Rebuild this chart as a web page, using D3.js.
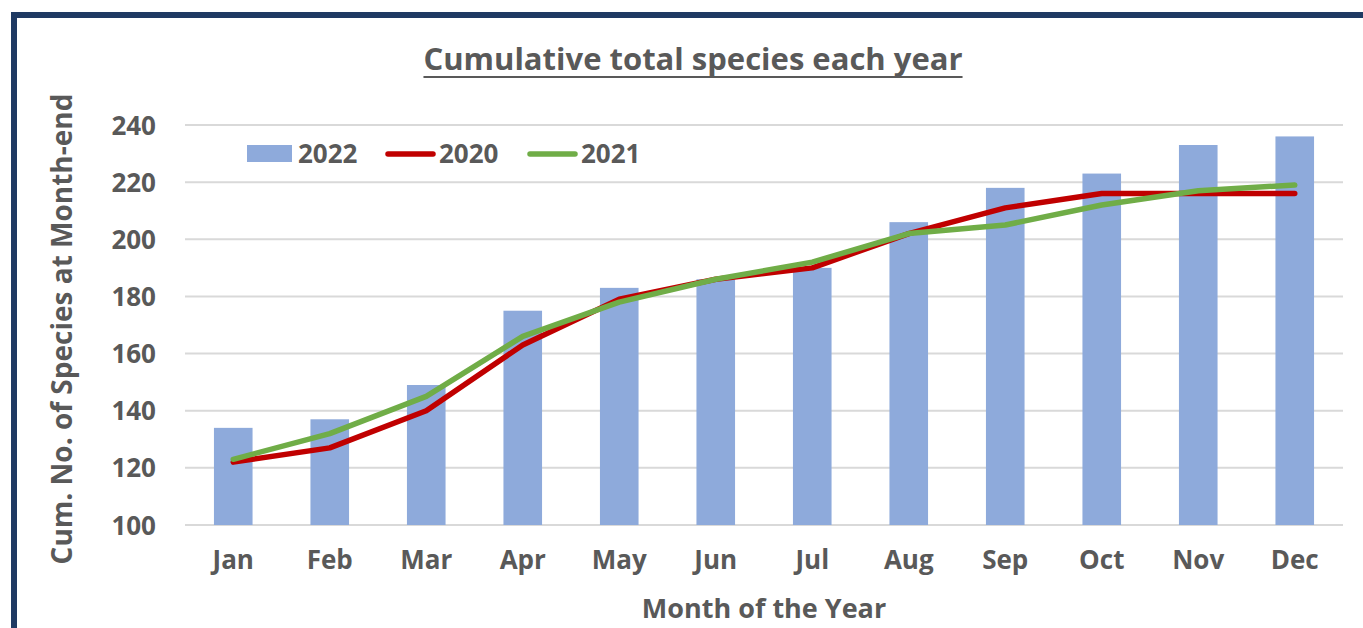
<!DOCTYPE html>
<html>
<head>
<meta charset="utf-8">
<script src="https://cdn.jsdelivr.net/npm/d3@7"></script>
<style>
  html, body { margin: 0; padding: 0; background: #fff; }
  svg { display: block; }
  text { font-family: "Open Sans", Lato, sans-serif; font-weight: 700; fill: #595959; }
</style>
</head>
<body>
<svg id="chart" width="1363" height="628"></svg>
<script>
// Months along the x axis
const months = ["Jan", "Feb", "Mar", "Apr", "May", "Jun", "Jul", "Aug", "Sep", "Oct", "Nov", "Dec"];
// Cumulative species count at each month-end
const species2022 = [134, 137, 149, 175, 183, 186, 190, 206, 218, 223, 233, 236];
const species2020 = [122, 127, 140, 163, 179, 186, 190, 202, 211, 216, 216, 216];
const species2021 = [123, 132, 145, 166, 178, 186, 192, 202, 205, 212, 217, 219];
// Y axis ticks
const yTicks = [100, 120, 140, 160, 180, 200, 220, 240];

const titleText = "Cumulative total species each year";
const xTitle = "Month of the Year";
const yTitle = "Cum. No. of Species at Month-end";

const colors = { bar: "#8eaadb", y2020: "#c00000", y2021: "#70ad47", grid: "#d9d9d9", frame: "#1f3a63" };

const svg = d3.select("#chart");
const W = 1363, H = 628;
const fs = 26;

// Outer frame (extends past the right and bottom edges)
svg.append("rect").attr("x", 14).attr("y", 15).attr("width", W + 20).attr("height", H + 20)
  .attr("fill", "#fff").attr("stroke", colors.frame).attr("stroke-width", 6);

const plot = { left: 185, right: 1343, top: 125, bottom: 525 };

const x = d3.scaleBand().domain(months).range([plot.left, plot.right])
  .paddingInner(0.6).paddingOuter(0.3);
const y = d3.scaleLinear().domain([100, 240]).range([plot.bottom, plot.top]);

// Gridlines
svg.append("g").selectAll("line").data(yTicks).join("line")
  .attr("x1", plot.left).attr("x2", plot.right)
  .attr("y1", d => y(d)).attr("y2", d => y(d))
  .attr("stroke", colors.grid).attr("stroke-width", 2);

// Y axis labels
const yAxis = d3.axisLeft(y).tickValues(yTicks).tickSize(0).tickPadding(0);
const yg = svg.append("g").attr("transform", `translate(${plot.left - 29},0)`).call(yAxis);
yg.select(".domain").remove();
yg.selectAll("text").attr("font-size", fs).attr("font-family", null).attr("fill", null).attr("dy", "0.35em");

// X axis labels
const xAxis = d3.axisBottom(x).tickSize(0).tickPadding(0);
const xg = svg.append("g").attr("transform", `translate(0,${plot.bottom + 27})`).call(xAxis);
xg.select(".domain").remove();
xg.selectAll("text").attr("font-size", fs).attr("font-family", null).attr("fill", null).attr("dy", "0.65em");

// Bars for 2022
svg.append("g").selectAll("rect").data(months).join("rect")
  .attr("x", d => x(d)).attr("width", x.bandwidth())
  .attr("y", (d, i) => y(species2022[i]))
  .attr("height", (d, i) => y(100) - y(species2022[i]))
  .attr("fill", colors.bar);

// Lines for 2020 and 2021
const line = d3.line().x((d, i) => x(months[i]) + x.bandwidth() / 2).y(d => y(d));
[[species2020, colors.y2020], [species2021, colors.y2021]].forEach(([vals, c]) => {
  svg.append("path").datum(vals).attr("d", line)
    .attr("fill", "none").attr("stroke", c).attr("stroke-width", 5.5)
    .attr("stroke-linejoin", "round").attr("stroke-linecap", "round");
});

// Legend
const legend = svg.append("g").attr("transform", "translate(0,154)");
legend.append("rect").attr("x", 247).attr("y", -9).attr("width", 45).attr("height", 17).attr("fill", colors.bar);
legend.append("text").attr("x", 298).attr("y", 0).attr("dy", "0.35em").attr("font-size", fs).text("2022");
legend.append("line").attr("x1", 388).attr("x2", 433).attr("y1", 0).attr("y2", 0)
  .attr("stroke", colors.y2020).attr("stroke-width", 5.5).attr("stroke-linecap", "round");
legend.append("text").attr("x", 439).attr("y", 0).attr("dy", "0.35em").attr("font-size", fs).text("2020");
legend.append("line").attr("x1", 530).attr("x2", 575).attr("y1", 0).attr("y2", 0)
  .attr("stroke", colors.y2021).attr("stroke-width", 5.5).attr("stroke-linecap", "round");
legend.append("text").attr("x", 581).attr("y", 0).attr("dy", "0.35em").attr("font-size", fs).text("2021");

// Title with underline
const title = svg.append("text").attr("x", 693).attr("y", 70).attr("text-anchor", "middle")
  .attr("font-size", 31).text(titleText);
const tw = title.node().getComputedTextLength();
svg.append("line").attr("x1", 693 - tw / 2).attr("x2", 693 + tw / 2).attr("y1", 77).attr("y2", 77)
  .attr("stroke", "#595959").attr("stroke-width", 2);

// Axis titles
svg.append("text").attr("x", (plot.left + plot.right) / 2).attr("y", 618).attr("text-anchor", "middle")
  .attr("font-size", 27).text(xTitle);
svg.append("text").attr("transform", `translate(72,${(plot.top + plot.bottom) / 2 + 4}) rotate(-90)`)
  .attr("text-anchor", "middle").attr("font-size", 28).text(yTitle);
</script>
</body>
</html>
